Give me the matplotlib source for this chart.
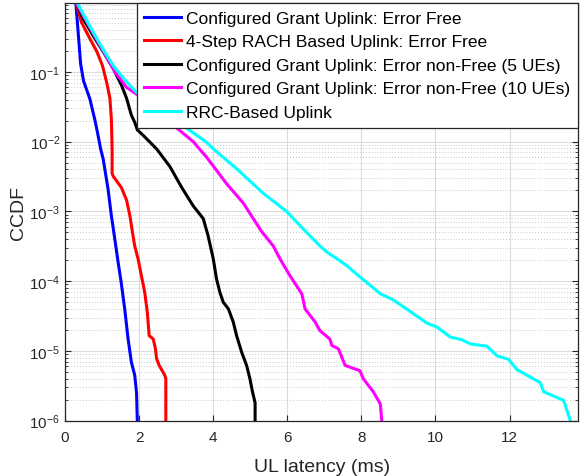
import matplotlib
matplotlib.use("Agg")
import matplotlib.pyplot as plt
from matplotlib.ticker import LogLocator, NullFormatter

plt.rcParams['font.family'] = ['Liberation Sans', 'DejaVu Sans']
plt.rcParams['mathtext.fontset'] = 'custom'
plt.rcParams['mathtext.rm'] = 'Liberation Sans'
plt.rcParams['mathtext.it'] = 'Liberation Sans'

labels = [
    "Configured Grant Uplink: Error Free",
    "4-Step RACH Based Uplink: Error Free",
    "Configured Grant Uplink: Error non-Free (5 UEs)",
    "Configured Grant Uplink: Error non-Free (10 UEs)",
    "RRC-Based Uplink",
]
colors = ["#0000ff", "#ff0000", "#000000", "#ff00ff", "#00ffff"]

cg_free_x = [0.29, 0.42, 0.50, 0.67, 0.80, 0.87, 0.96, 1.03, 1.16, 1.25, 1.34, 1.43,
             1.51, 1.61, 1.70, 1.79, 1.88, 1.93, 1.95]
cg_free_y = [1, 0.13, 0.074, 0.041, 0.021, 0.014, 7.9e-3, 5.6e-3, 2.1e-3, 8.7e-4, 4.1e-4,
             1.9e-4, 1.0e-4, 4.0e-5, 1.5e-5, 6.9e-6, 4.5e-6, 2.5e-6, 1e-6]

rach_x = [0.29, 0.44, 0.67, 0.86, 1.01, 1.12, 1.21, 1.25, 1.27, 1.27, 1.30, 1.52, 1.66,
          1.75, 1.82, 1.88, 1.97, 2.06, 2.11, 2.15, 2.22, 2.27, 2.38, 2.44, 2.47, 2.54,
          2.69, 2.72, 2.72]
rach_y = [1, 0.52, 0.30, 0.195, 0.123, 0.072, 0.042, 0.021, 7.9e-3, 3.5e-3, 3.2e-3,
          2.2e-3, 1.45e-3, 8.7e-4, 5e-4, 3.2e-4, 2.1e-4, 1.2e-4, 8.9e-5, 6.9e-5, 3.6e-5,
          1.66e-5, 1.48e-5, 1.07e-5, 7.8e-6, 6.2e-6, 4.5e-6, 4e-6, 1e-6]

cg5_x = [0.29, 0.49, 0.76, 1.03, 1.30, 1.52, 1.66, 1.79, 1.88, 1.95, 2.11, 2.47, 2.83,
         3.15, 3.46, 3.73, 3.86, 4.0, 4.09, 4.18, 4.27, 4.41, 4.54, 4.63, 4.77, 4.90,
         4.99, 5.06, 5.13, 5.13]
cg5_y = [1, 0.58, 0.33, 0.195, 0.112, 0.065, 0.042, 0.024, 0.019, 0.0148, 0.0123,
         7.9e-3, 4.4e-3, 2.2e-3, 1.2e-3, 7.9e-4, 4.5e-4, 2.1e-4, 1.07e-4, 6.9e-5, 5e-5,
         4e-5, 2.6e-5, 1.66e-5, 9.5e-6, 6.2e-6, 4e-6, 2.6e-6, 1.8e-6, 1e-6]

cg10_x = [0.29, 0.76, 1.03, 1.35, 1.66, 1.93, 2.11, 2.6, 3.01, 3.46, 3.82, 4.36, 4.81,
          5.30, 5.62, 5.80, 6.07, 6.39, 6.48, 6.75, 6.88, 7.15, 7.20, 7.38, 7.56, 7.96,
          8.05, 8.32, 8.51, 8.55]
cg10_y = [1, 0.355, 0.20, 0.10, 0.060, 0.048, 0.040, 0.024, 0.0158, 0.010, 6e-3, 2.5e-3,
          1.32e-3, 5.2e-4, 3.2e-4, 2.1e-4, 1.2e-4, 6.6e-5, 4e-5, 2.6e-5, 1.95e-5,
          1.48e-5, 1.2e-5, 1.07e-5, 6.2e-6, 5.2e-6, 4e-6, 2.6e-6, 1.74e-6, 1e-6]

rrc_x = [0.32, 0.76, 1.03, 1.30, 1.66, 1.93, 2.4, 2.9, 3.24, 3.80, 4.0, 4.63, 5.35, 5.98,
         6.43, 6.88, 7.07, 7.34, 7.61, 7.96, 8.24, 8.51, 8.86, 9.41, 9.77, 10.04, 10.40,
         10.71, 10.94, 11.39, 11.66, 11.97, 12.20, 12.83, 12.92, 13.46, 13.64]
rrc_y = [1, 0.37, 0.21, 0.123, 0.072, 0.051, 0.032, 0.021, 0.0162, 0.010, 7.9e-3, 4.1e-3,
         1.82e-3, 1e-3, 5.6e-4, 3.2e-4, 2.6e-4, 2.1e-4, 1.66e-4, 1.15e-4, 8.7e-5, 6.6e-5,
         5.4e-5, 3.4e-5, 2.5e-5, 2.2e-5, 1.58e-5, 1.45e-5, 1.26e-5, 1.17e-5, 8.5e-6,
         7.6e-6, 5.4e-6, 3.5e-6, 2.6e-6, 1.95e-6, 1e-6]

x_ticks = [0, 2, 4, 6, 8, 10, 12]
y_ticks = [1e-6, 1e-5, 1e-4, 1e-3, 1e-2, 1e-1]
y_ticklabels = [r"$10^{-6}$", r"$10^{-5}$", r"$10^{-4}$", r"$10^{-3}$", r"$10^{-2}$", r"$10^{-1}$"]

series = [(cg_free_x, cg_free_y), (rach_x, rach_y), (cg5_x, cg5_y), (cg10_x, cg10_y), (rrc_x, rrc_y)]

fig = plt.figure(figsize=(5.81, 4.77), dpi=100)
ax = fig.add_axes([0.112, 0.116, 0.883, 0.876])

for (xs, ys), c, lab in zip(series, colors, labels):
    ax.plot(xs, ys, color=c, lw=2.2, label=lab, solid_joinstyle='round')

ax.set_yscale('log')
ax.set_xlim(0, 13.85)
ax.set_ylim(1e-6, 0.98)
ax.set_xticks(x_ticks)
ax.set_yticks(y_ticks)
ax.set_yticklabels(y_ticklabels)
ax.yaxis.set_minor_locator(LogLocator(base=10, subs=range(2, 10), numticks=20))
ax.yaxis.set_minor_formatter(NullFormatter())

grey = '#262626'
ax.grid(True, which='major', color='#dcdcdc', lw=0.8, ls='-')
ax.grid(True, which='minor', axis='y', color='#c8c8c8', lw=0.7, ls=(0, (1, 2)))
ax.set_axisbelow(True)
ax.tick_params(which='both', direction='in', top=True, right=True, colors=grey,
               labelsize=11, labelcolor=grey)
ax.tick_params(axis='x', which='major', pad=7)
ax.tick_params(which='major', length=4, width=0.8)
ax.tick_params(which='minor', length=2.5, width=0.6)
for s in ax.spines.values():
    s.set_color(grey)
    s.set_linewidth(0.9)

ax.set_xlabel("UL latency (ms)", fontsize=14, color=grey, labelpad=10)
ax.set_ylabel("CCDF", fontsize=14, color=grey, labelpad=2)

leg = ax.legend(loc='upper right', fontsize=12.5, frameon=True, fancybox=False,
                borderaxespad=0, handlelength=2.1, handletextpad=0.3,
                labelspacing=0.48, borderpad=0.45)
leg.get_frame().set_edgecolor(grey)
leg.get_frame().set_linewidth(0.9)
leg.get_frame().set_alpha(1)
for t in leg.get_texts():
    t.set_color('black')

fig.savefig("out.png", dpi=100)
